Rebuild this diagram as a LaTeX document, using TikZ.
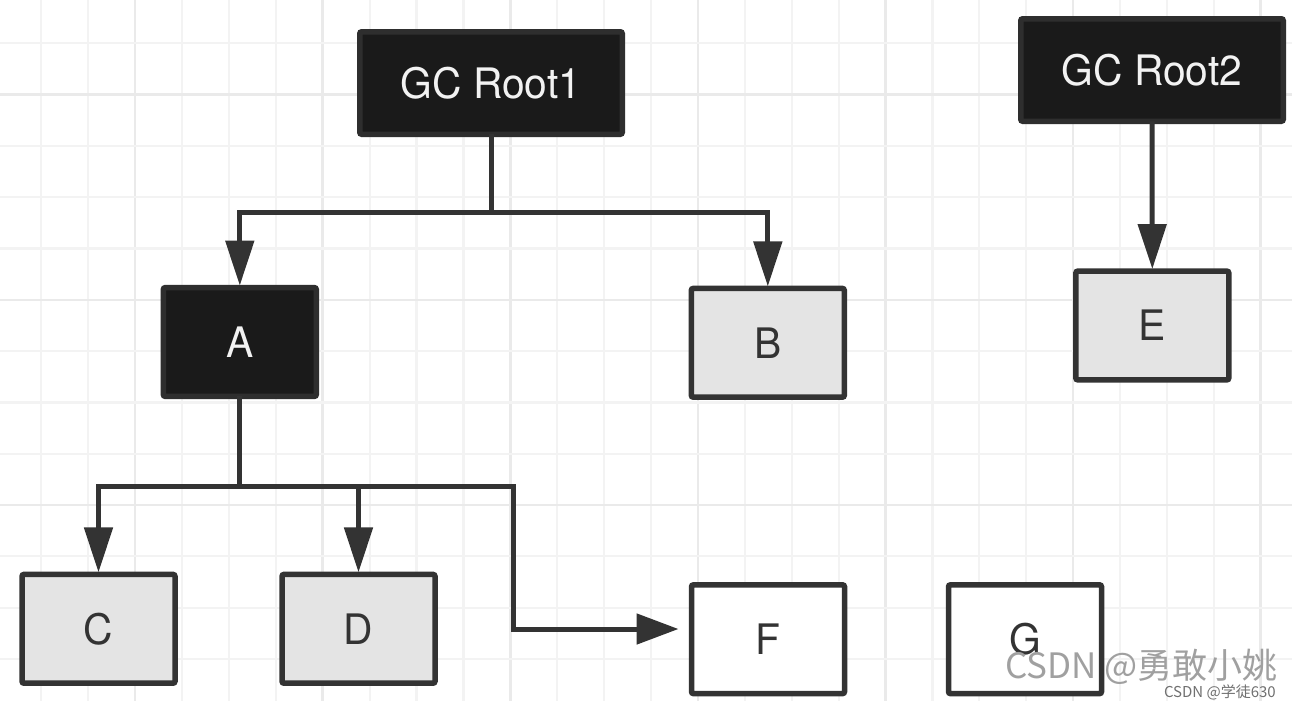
\documentclass[tikz,border=0pt]{standalone}
\usepackage{graphicx}
\usepackage{fontspec}
\setmainfont{TeX Gyre Heros}
\newfontfamily\cjkfont{Noto Sans CJK SC}
\usetikzlibrary{arrows.meta}
\definecolor{edgec}{HTML}{333333}
\definecolor{darkfill}{HTML}{1A1A1A}
\definecolor{darkedge}{HTML}{2E2E2E}
\definecolor{grayfill}{HTML}{E4E4E4}
\definecolor{gridminor}{HTML}{F3F3F3}
\definecolor{gridmajor}{HTML}{EAEAEA}
\definecolor{wmark}{HTML}{A0A0A0}
\definecolor{wmarksmall}{HTML}{707070}
\newcommand{\sq}[1]{\scalebox{0.97}[1]{#1}}
\begin{document}
\begin{tikzpicture}[x=1pt,y=-1pt,
  box/.style={draw=edgec, line width=5.5pt, rounded corners=2pt,
    minimum width=153pt, minimum height=108.8pt, inner sep=0pt, outer sep=0pt,
    font=\fontsize{42}{42}\selectfont, text=edgec},
  darkbox/.style={box, fill=darkfill, draw=darkedge, text=white!95!black},
  graybox/.style={box, fill=grayfill},
  whitebox/.style={box, fill=white},
  rootbox/.style={darkbox, minimum width=262.5pt, minimum height=102.5pt},
  conn/.style={draw=edgec, line width=5pt},
  vtip/.style={conn, -{Triangle[length=45pt,width=28pt]}},
  htip/.style={conn, -{Triangle[length=42pt,width=30pt]}},
  wm/.style={font=\cjkfont\fontsize{35}{35}\selectfont, text=wmark, inner sep=0pt},
  wms/.style={font=\cjkfont\fontsize{15}{15}\selectfont, text=wmarksmall, inner sep=0pt}
]
\useasboundingbox (0,0) rectangle (1292,710);
\fill[white] (0,0) rectangle (1292,710);
% grid
\foreach \k in {0,...,26}{
  \pgfmathsetmacro\xx{41.3+\k*46.9}
  \pgfmathtruncatemacro\mm{mod(\k,4)}
  \ifnum\mm=2
    \draw[gridmajor, line width=2.5pt] (\xx,0) -- (\xx,701);
  \else
    \draw[gridminor, line width=2.2pt] (\xx,0) -- (\xx,701);
  \fi
}
\foreach \k in {0,...,12}{
  \pgfmathsetmacro\yy{43.3+\k*51.3}
  \pgfmathtruncatemacro\mm{mod(\k,4)}
  \ifnum\mm=1
    \draw[gridmajor, line width=2.5pt] (0,\yy) -- (1292,\yy);
  \else
    \draw[gridminor, line width=2.2pt] (0,\yy) -- (1292,\yy);
  \fi
}
% nodes
\node[rootbox] (r1) at (491,83) {\sq{GC Root1}};
\node[rootbox] (r2) at (1152,70) {\sq{GC Root2}};
\node[darkbox] (a) at (239.8,342) {\sq{A}};
\node[graybox] (b) at (767.8,342.8) {\sq{B}};
\node[graybox] (e) at (1152.3,325.5) {\sq{E}};
\node[graybox] (c) at (98.5,628.8) {\sq{C}};
\node[graybox] (d) at (358.5,628.8) {\sq{D}};
\node[whitebox] (f) at (768,639.2) {\sq{F}};
\node[whitebox] (g) at (1025,639.2) {\sq{G}};
% connectors
\coordinate (j1) at (491,212);
\coordinate (j2) at (239.8,486);
\coordinate (k2) at (513.5,486);
\draw[conn] (r1.south) -- (j1);
\draw[vtip, shorten >=2pt] (j1) -| (a.north);
\draw[vtip, shorten >=2pt] (j1) -| (b.north);
\draw[conn] (a.south) -- (j2);
\draw[vtip, shorten >=2pt] (j2) -| (c.north);
\draw[vtip, shorten >=2pt] (j2) -| (d.north);
\draw[htip, shorten >=13pt] (j2) -- (k2) |- ([yshift=10.2pt]f.west);
\draw[vtip, shorten >=2pt] (r2.south) -- (e.north);
% watermark
\node[wm, anchor=base east] (w1) at (1278,678) {CSDN @勇敢小姚};
\node[wms, anchor=base east] (w2) at (1276,697) {CSDN @学徒630};
\end{tikzpicture}
\end{document}
